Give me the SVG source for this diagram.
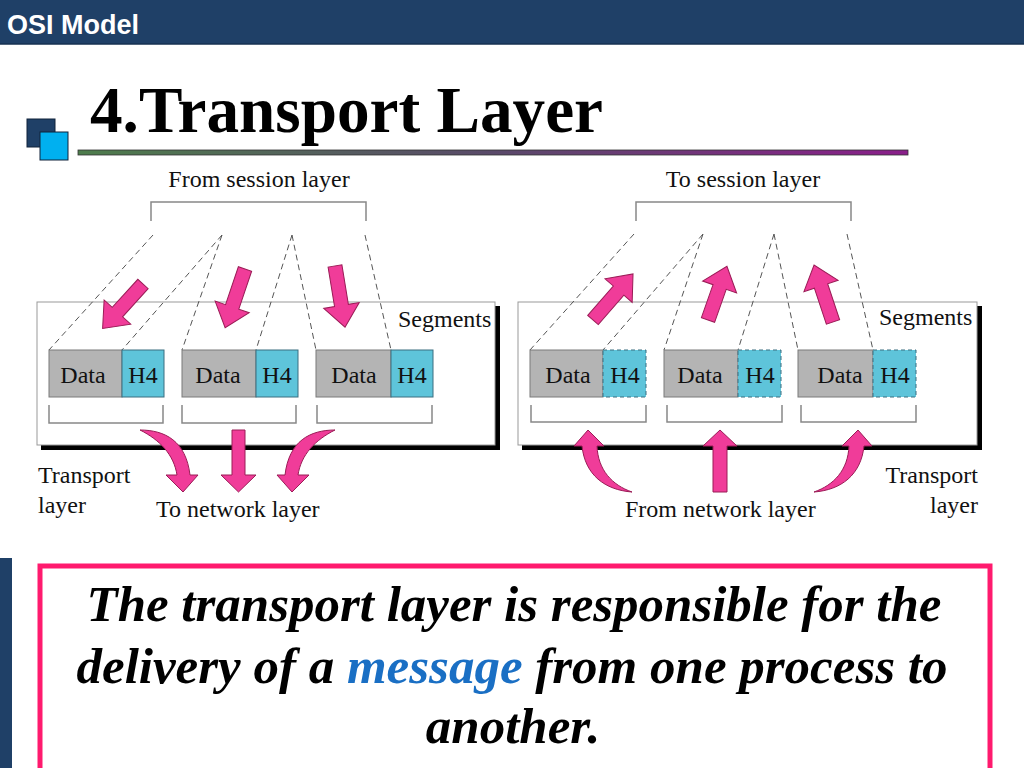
<svg xmlns="http://www.w3.org/2000/svg" width="1024" height="768" viewBox="0 0 1024 768">
<style>
.sm{font-family:"Liberation Serif","Times New Roman",serif;font-size:24px;fill:#111}
.dash{stroke:#555;stroke-width:1;stroke-dasharray:6,4;fill:none}
.brk{stroke:#888;stroke-width:1.5;fill:none}
.data{fill:#b4b4b4;stroke:#7a7a7a;stroke-width:1}
.h4{fill:#5ec4da;stroke:#3a6f80;stroke-width:1}
.h4d{fill:#5ec4da;stroke:#3a6f80;stroke-width:1;stroke-dasharray:4,3}
.pink{fill:#f03c99;stroke:#9a1c56;stroke-width:1}
.big{font-family:"Liberation Serif","Times New Roman",serif;font-size:51px;font-weight:bold;font-style:italic;fill:#000}
</style>
<defs>
<linearGradient id="ul" x1="0" y1="0" x2="1" y2="0">
<stop offset="0" stop-color="#4e7d4c"/>
<stop offset="0.5" stop-color="#5a4a6a"/>
<stop offset="1" stop-color="#8a1f8a"/>
</linearGradient>
</defs>
<rect width="1024" height="768" fill="#fff"/>
<g id="header">
<rect x="0" y="0" width="1024" height="44" fill="#1f4067"/>
<line x1="0" y1="44" x2="1024" y2="44" stroke="#163050" stroke-width="1.5"/>
<text x="7" y="34" font-family="Liberation Sans,Arial,sans-serif" font-size="27" font-weight="bold" fill="#fff">OSI Model</text>
</g>
<g id="title">
<rect x="27" y="119" width="28" height="28" fill="#1f4067" stroke="#10223a" stroke-width="1"/>
<rect x="40" y="132" width="28" height="28" fill="#00b0f0" stroke="#10223a" stroke-width="1"/>
<text x="90" y="132" font-family="Liberation Serif,'Times New Roman',serif" font-size="65" font-weight="bold" fill="#000" textLength="513" lengthAdjust="spacingAndGlyphs">4.Transport Layer</text>
<rect x="78" y="150" width="830" height="5" fill="url(#ul)" stroke="#333" stroke-width="0.8"/>
</g>
<g id="left-panel">
<text class="sm" x="259" y="187" text-anchor="middle">From session layer</text>
<path class="brk" d="M151,221 V202 H366 V221"/>
<rect x="41" y="306" width="459" height="144" fill="#000"/>
<rect x="37" y="302" width="458" height="143" fill="#fff" stroke="#999" stroke-width="1"/>
<text class="sm" x="398" y="327">Segments</text>
</g>
<g id="right-panel">
<text class="sm" x="743" y="187" text-anchor="middle">To session layer</text>
<path class="brk" d="M636,221 V202 H851 V221"/>
<rect x="522" y="306" width="460" height="144" fill="#000"/>
<rect x="518" y="302" width="459" height="143" fill="#fff" stroke="#999" stroke-width="1"/>
<text class="sm" x="879" y="325">Segments</text>
</g>
<g id="connectors">
<line class="dash" x1="153" y1="235" x2="49" y2="350"/>
<line class="dash" x1="222" y1="235" x2="122" y2="350"/>
<line class="dash" x1="222" y1="235" x2="182" y2="350"/>
<line class="dash" x1="292" y1="235" x2="256" y2="350"/>
<line class="dash" x1="292" y1="235" x2="316" y2="350"/>
<line class="dash" x1="365" y1="235" x2="391" y2="350"/>
<line class="dash" x1="634" y1="234" x2="530" y2="350"/>
<line class="dash" x1="703" y1="234" x2="603" y2="350"/>
<line class="dash" x1="703" y1="234" x2="664" y2="350"/>
<line class="dash" x1="774" y1="234" x2="738" y2="350"/>
<line class="dash" x1="774" y1="234" x2="798" y2="350"/>
<line class="dash" x1="847" y1="234" x2="873" y2="350"/>
<path class="pink" transform="translate(143,284) rotate(132.3)" d="M0,-7 L38,-7 L38,-18 L60,0 L38,18 L38,7 L0,7 Z"/>
<path class="pink" transform="translate(245,269) rotate(108.7)" d="M0,-7 L40,-7 L40,-18 L62,0 L40,18 L40,7 L0,7 Z"/>
<path class="pink" transform="translate(335,266) rotate(80.7)" d="M0,-7 L40,-7 L40,-18 L62,0 L40,18 L40,7 L0,7 Z"/>
<path class="pink" transform="translate(593,320) rotate(-49)" d="M0,-7 L39,-7 L39,-18 L61,0 L39,18 L39,7 L0,7 Z"/>
<path class="pink" transform="translate(708,320) rotate(-70.6)" d="M0,-7 L35,-7 L35,-18 L57,0 L35,18 L35,7 L0,7 Z"/>
<path class="pink" transform="translate(833,322) rotate(-108.4)" d="M0,-7 L38,-7 L38,-18 L60,0 L38,18 L38,7 L0,7 Z"/>
<path class="pink" d="M140,430 C165,430 186,441 190,475 L198,475 L183,492 L166,475 L177,475 C174,455 160,440 140,430 Z"/>
<path class="pink" d="M232,430 L245,430 L245,475 L256,475 L238.5,492 L221,475 L232,475 Z"/>
<path class="pink" d="M335,430 C310,430 289,441 285,475 L277,475 L292,492 L309,475 L298,475 C301,455 315,440 335,430 Z"/>
<path class="pink" d="M632,492 C605,490 585,475 582,446 L574,446 L588,430 L604,446 L597,446 C598,470 612,485 632,492 Z"/>
<path class="pink" d="M713,492 L727,492 L727,446 L737,446 L720,430 L703,446 L713,446 Z"/>
<path class="pink" d="M814,492 C841,490 861,475 864,446 L872,446 L858,430 L842,446 L849,446 C848,470 834,485 814,492 Z"/>
</g>
<g id="seg-l1">
<rect class="data" x="49" y="350" width="73" height="47"/>
<rect class="h4" x="122" y="350" width="42" height="47"/>
<text class="sm" x="83" y="383" text-anchor="middle">Data</text>
<text class="sm" x="143" y="383" text-anchor="middle">H4</text>
<path class="brk" d="M49,405 V423 H163 V405"/>
</g>
<g id="seg-l2">
<rect class="data" x="182" y="350" width="74" height="47"/>
<rect class="h4" x="256" y="350" width="42" height="47"/>
<text class="sm" x="218" y="383" text-anchor="middle">Data</text>
<text class="sm" x="277" y="383" text-anchor="middle">H4</text>
<path class="brk" d="M182,405 V423 H296 V405"/>
</g>
<g id="seg-l3">
<rect class="data" x="316" y="350" width="75" height="47"/>
<rect class="h4" x="391" y="350" width="42" height="47"/>
<text class="sm" x="354" y="383" text-anchor="middle">Data</text>
<text class="sm" x="412" y="383" text-anchor="middle">H4</text>
<path class="brk" d="M317,405 V423 H432 V405"/>
</g>
<g id="seg-r1">
<rect class="data" x="530" y="350" width="73" height="47"/>
<rect class="h4d" x="603" y="350" width="43" height="47"/>
<text class="sm" x="568" y="383" text-anchor="middle">Data</text>
<text class="sm" x="625" y="383" text-anchor="middle">H4</text>
<path class="brk" d="M531,405 V422 H646 V405"/>
</g>
<g id="seg-r2">
<rect class="data" x="664" y="350" width="74" height="47"/>
<rect class="h4d" x="738" y="350" width="43" height="47"/>
<text class="sm" x="700" y="383" text-anchor="middle">Data</text>
<text class="sm" x="760" y="383" text-anchor="middle">H4</text>
<path class="brk" d="M667,405 V422 H782 V405"/>
</g>
<g id="seg-r3">
<rect class="data" x="798" y="350" width="75" height="47"/>
<rect class="h4d" x="873" y="350" width="43" height="47"/>
<text class="sm" x="840" y="383" text-anchor="middle">Data</text>
<text class="sm" x="895" y="383" text-anchor="middle">H4</text>
<path class="brk" d="M801,405 V422 H916 V405"/>
</g>
<g id="labels">
<text class="sm" x="38" y="483">Transport</text>
<text class="sm" x="38" y="513">layer</text>
<text class="sm" x="156" y="517">To network layer</text>
<text class="sm" x="625" y="517">From network layer</text>
<text class="sm" x="978" y="483" text-anchor="end">Transport</text>
<text class="sm" x="978" y="513" text-anchor="end">layer</text>
</g>
<g id="note">
<rect x="0" y="558" width="12" height="210" fill="#1f4067"/>
<rect x="40" y="566" width="950" height="210" fill="#fff" stroke="#ff1a6e" stroke-width="5"/>
<text class="big" x="514" y="621" text-anchor="middle" textLength="855" lengthAdjust="spacingAndGlyphs">The transport layer is responsible for the</text>
<text class="big" x="512" y="683" text-anchor="middle" textLength="871" lengthAdjust="spacingAndGlyphs">delivery of a <tspan fill="#1a6fc4">message</tspan> from one process to</text>
<text class="big" x="513" y="743" text-anchor="middle">another.</text>
</g>
</svg>
